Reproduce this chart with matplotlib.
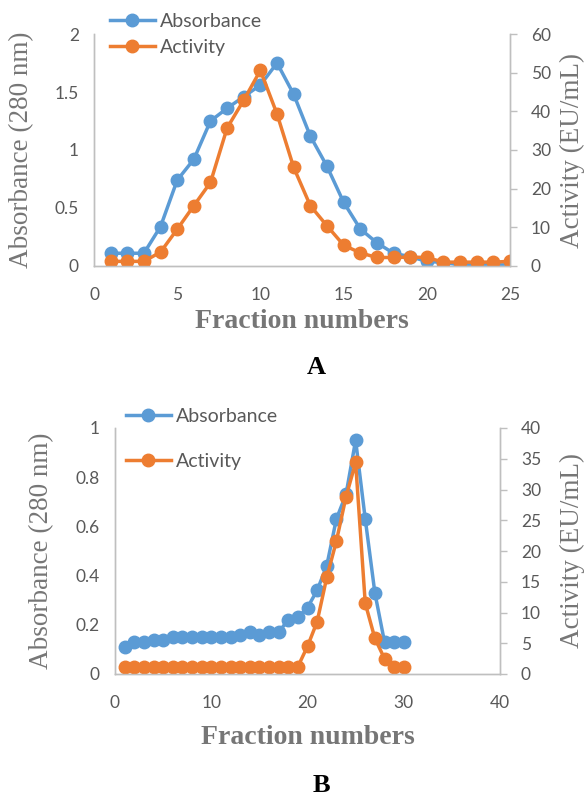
import numpy as np
import matplotlib
matplotlib.use("Agg")
import matplotlib.pyplot as plt

# --- data ---
frac_a = np.arange(1, 26)
abs_a = [0.11, 0.11, 0.11, 0.34, 0.74, 0.92, 1.25, 1.36, 1.46, 1.56,
         1.75, 1.48, 1.12, 0.86, 0.55, 0.32, 0.20, 0.11, 0.08, 0.04,
         0.03, 0.01, 0.01, 0.01, 0.01]
act_a = [1.2, 1.2, 1.2, 3.6, 9.5, 15.6, 21.6, 35.7, 42.9, 50.6,
         39.3, 25.5, 15.6, 10.4, 5.4, 3.4, 2.2, 2.2, 2.3, 2.2,
         1.0, 1.0, 1.0, 1.0, 1.2]

frac_b = np.arange(1, 31)
abs_b = [0.11, 0.13, 0.13, 0.14, 0.14, 0.15, 0.15, 0.15, 0.15, 0.15,
         0.15, 0.15, 0.16, 0.17, 0.16, 0.17, 0.17, 0.22, 0.23, 0.27,
         0.34, 0.44, 0.63, 0.73, 0.95, 0.63, 0.33, 0.13, 0.13, 0.13]
act_b = [1.2] * 19 + [4.5, 8.5, 15.7, 21.6, 28.8, 34.4, 11.5, 5.8, 2.5, 1.2, 1.2]

BLUE = "#5B9BD5"
ORANGE = "#ED7D31"
TICK_C = "#595959"
LAB_C = "#767676"
AXIS_C = "#BFBFBF"

W, H = 588, 796
fig = plt.figure(figsize=(W / 100, H / 100), dpi=100)


def px_axes(l, t, r, b):
    return fig.add_axes([l / W, 1 - b / H, (r - l) / W, (b - t) / H])


def panel(box, x, ya, yb, xlim, xticks, ylim, yticks, ylabels, rlim, rticks,
          leg_xy, leg_space, letter, letter_y, xlabel_y, ylab_x):
    ax = px_axes(*box)
    ax2 = ax.twinx()
    l1, = ax.plot(x, ya, "-o", color=BLUE, lw=2.5, ms=9, label="Absorbance")
    l2, = ax2.plot(x, yb, "-o", color=ORANGE, lw=2.5, ms=9, label="Activity")
    ax.set_xlim(*xlim)
    ax.set_ylim(*ylim)
    ax2.set_ylim(*rlim)
    ax.set_xticks(xticks)
    ax.set_yticks(yticks)
    ax.set_yticklabels(ylabels)
    ax2.set_yticks(rticks)
    for a in (ax, ax2):
        a.spines["top"].set_visible(False)
        for s in ("left", "right", "bottom"):
            a.spines[s].set_color(AXIS_C)
            a.spines[s].set_linewidth(1.0)
        a.tick_params(colors=TICK_C, labelsize=12.5)
        for t in a.get_xticklabels() + a.get_yticklabels():
            t.set_fontfamily("Lato")
    ax.tick_params(axis="x", length=0, pad=15)
    ax.tick_params(axis="y", length=0, pad=11)
    ax2.tick_params(axis="y", length=5, width=1, color=AXIS_C, pad=10)

    cx = (box[0] + box[2]) / 2 / W
    fig.text(cx, 1 - xlabel_y / H, "Fraction numbers", ha="center", va="center",
             family="Liberation Serif", weight="bold", size=20, color=LAB_C)
    fig.text(ylab_x / W, 1 - (box[1] + box[3]) / 2 / H, "Absorbance (280 nm)",
             rotation=90, ha="center", va="center", family="Liberation Serif",
             size=19.5, color=LAB_C)
    fig.text(572 / W, 1 - (box[1] + box[3]) / 2 / H, "Activity (EU/mL)",
             rotation=90, ha="center", va="center", family="Liberation Serif",
             size=19.5, color=LAB_C)
    fig.text(cx + 14 / W, 1 - letter_y / H, letter, ha="center", va="center",
             family="Liberation Serif", weight="bold", size=19, color="black")

    leg = fig.legend(handles=[l1, l2], loc="upper left",
                     bbox_to_anchor=(leg_xy[0] / W, 1 - leg_xy[1] / H),
                     frameon=False, handlelength=2.3, handletextpad=0.25,
                     labelspacing=leg_space, borderaxespad=0, borderpad=0,
                     prop={"family": "Lato", "size": 14})
    for t in leg.get_texts():
        t.set_color(TICK_C)
    return ax, ax2


panel((94, 34, 510, 266), frac_a, abs_a, act_a,
      (0, 25), np.arange(0, 26, 5), (0, 2), [0, 0.5, 1, 1.5, 2],
      ["0", "0.5", "1", "1.5", "2"], (0, 60), np.arange(0, 61, 10),
      (110, 13), 0.45, "A", 367, 322, 22)

panel((115, 428, 500, 674), frac_b, abs_b, act_b,
      (0, 40), np.arange(0, 41, 10), (0, 1), [0, 0.2, 0.4, 0.6, 0.8, 1],
      ["0", "0.2", "0.4", "0.6", "0.8", "1"], (0, 40), np.arange(0, 41, 5),
      (126, 408), 1.45, "B", 785, 738, 42)

fig.savefig("out.png", dpi=100)
